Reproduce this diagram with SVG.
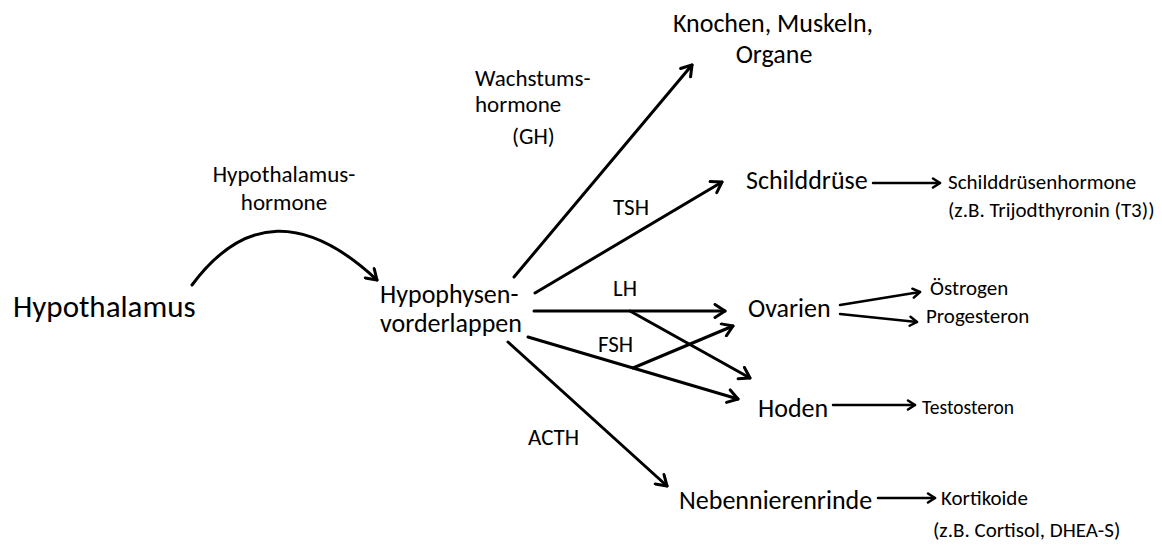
<svg xmlns="http://www.w3.org/2000/svg" width="1162" height="548" viewBox="0 0 1162 548">
  <defs>
    <style>
      text { font-family: Carlito, Lato, "Liberation Sans", sans-serif; fill: #000; }
      .big { font-size: 31px; }
      .main { font-size: 26px; }
      .mid { font-size: 23px; }
      .small { font-size: 21px; }
      .conn { fill: none; stroke: #000; stroke-width: 3; stroke-linecap: round; }
      .conn-s { fill: none; stroke: #000; stroke-width: 2.5; stroke-linecap: round; }
    </style>
    <marker id="head" markerUnits="userSpaceOnUse" viewBox="0 0 16 16" markerWidth="16" markerHeight="16" refX="13" refY="8" orient="auto">
      <path d="M3,1.5 L13,8 L3,14.5" fill="none" stroke="#000" stroke-width="3" stroke-linecap="round" stroke-linejoin="round"/>
    </marker>
    <marker id="head-s" markerUnits="userSpaceOnUse" viewBox="0 0 12 12" markerWidth="12" markerHeight="12" refX="10" refY="6" orient="auto">
      <path d="M3,1.5 L10,6 L3,10.5" fill="none" stroke="#000" stroke-width="2.5" stroke-linecap="round" stroke-linejoin="round"/>
    </marker>
  </defs>

  <rect width="1162" height="548" fill="#fff"/>

  <!-- connectors -->
  <g id="connectors">
    <path class="conn" d="M192,285 Q270,180 377,280" marker-end="url(#head)"/>
    <!-- GH -->
    <line class="conn" x1="514" y1="277" x2="692" y2="65" marker-end="url(#head)"/>
    <!-- TSH -->
    <line class="conn" x1="535" y1="293" x2="722" y2="182" marker-end="url(#head)"/>
    <!-- LH -->
    <line class="conn" x1="534" y1="311" x2="725" y2="311" marker-end="url(#head)"/>
    <line class="conn" x1="630" y1="311" x2="750" y2="378" marker-end="url(#head)"/>
    <!-- FSH -->
    <polyline class="conn" points="528,337 633,368 738,399" marker-end="url(#head)"/>
    <line class="conn" x1="633" y1="368" x2="733" y2="326" marker-end="url(#head)"/>
    <!-- ACTH -->
    <line class="conn" x1="508" y1="342" x2="667" y2="486" marker-end="url(#head)"/>
    <!-- secretion products -->
    <line class="conn-s" x1="873" y1="183" x2="940" y2="183" marker-end="url(#head-s)"/>
    <line class="conn-s" x1="840" y1="305" x2="920" y2="292" marker-end="url(#head-s)"/>
    <line class="conn-s" x1="840" y1="314" x2="917" y2="322" marker-end="url(#head-s)"/>
    <line class="conn-s" x1="833" y1="405" x2="915" y2="405" marker-end="url(#head-s)"/>
    <line class="conn-s" x1="878" y1="498" x2="935" y2="498" marker-end="url(#head-s)"/>
  </g>

  <!-- hormone labels -->
  <g id="label-hypothalamushormone">
    <text class="mid" x="284" y="182" text-anchor="middle">Hypothalamus-</text>
    <text class="mid" x="284" y="210" text-anchor="middle">hormone</text>
  </g>
  <g id="label-gh">
    <text class="mid" x="475" y="86">Wachstums-</text>
    <text class="mid" x="475" y="112">hormone</text>
    <text class="mid" x="512" y="144">(GH)</text>
  </g>
  <text id="label-tsh" class="mid" x="613" y="215">TSH</text>
  <text id="label-lh" class="mid" x="613" y="296">LH</text>
  <text id="label-fsh" class="mid" x="598" y="352">FSH</text>
  <text id="label-acth" class="mid" x="528" y="445">ACTH</text>

  <!-- nodes -->
  <g id="node-hypothalamus">
    <text class="big" x="13" y="317">Hypothalamus</text>
  </g>
  <g id="node-hypophysenvorderlappen">
    <text class="main" x="380" y="303">Hypophysen-</text>
    <text class="main" x="380" y="332">vorderlappen</text>
  </g>
  <g id="node-knochen">
    <text class="main" x="773" y="32" text-anchor="middle">Knochen, Muskeln,</text>
    <text class="main" x="774" y="63" text-anchor="middle">Organe</text>
  </g>
  <g id="node-schilddruese">
    <text class="main" x="746" y="189">Schilddrüse</text>
  </g>
  <g id="node-schilddruesenhormone">
    <text class="small" x="948" y="189">Schilddrüsenhormone</text>
    <text class="small" x="948" y="217">(z.B. Trijodthyronin (T3))</text>
  </g>
  <g id="node-ovarien">
    <text class="main" x="748" y="317">Ovarien</text>
  </g>
  <g id="node-oestrogen">
    <text class="small" x="930" y="295">Östrogen</text>
  </g>
  <g id="node-progesteron">
    <text class="small" x="926" y="323">Progesteron</text>
  </g>
  <g id="node-hoden">
    <text class="main" x="758" y="417">Hoden</text>
  </g>
  <g id="node-testosteron">
    <text class="small" x="922" y="414" style="font-size:19.5px">Testosteron</text>
  </g>
  <g id="node-nebennierenrinde">
    <text class="main" x="679" y="509">Nebennierenrinde</text>
  </g>
  <g id="node-kortikoide">
    <text class="small" x="941" y="505">Kortikoide</text>
    <text class="small" x="933" y="537">(z.B. Cortisol, DHEA-S)</text>
  </g>
</svg>
